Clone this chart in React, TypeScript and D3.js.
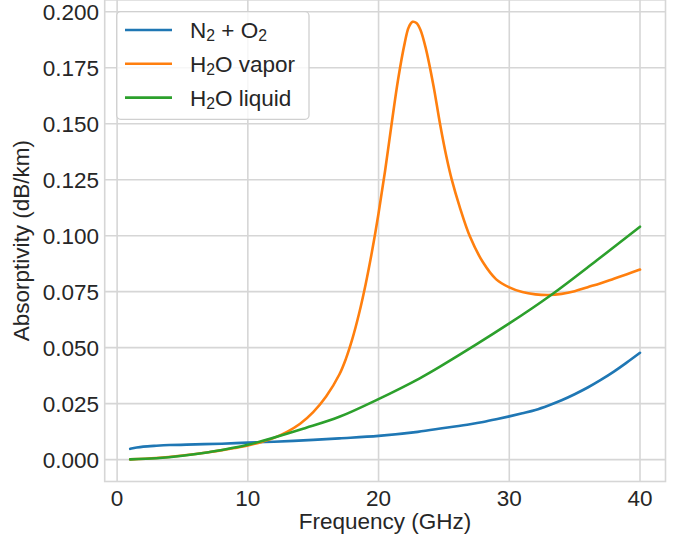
import React from "react";
import * as d3 from "d3";

const freqN2O2 = [1, 1.5, 2, 3, 4, 6, 8, 10, 12, 15, 17, 20, 23, 25, 27, 28, 29, 30, 31, 32, 33, 34, 35, 36, 37, 38, 39, 40];
const valN2O2 = [0.0048, 0.0054, 0.0058, 0.0062, 0.0065, 0.0068, 0.0071, 0.0076, 0.008, 0.0088, 0.0095, 0.0106, 0.0124, 0.0141, 0.0158, 0.0168, 0.018, 0.0193, 0.0207, 0.0222, 0.0242, 0.0265, 0.0292, 0.0322, 0.0356, 0.0393, 0.0434, 0.0477];

const freqVapor = [1, 3, 5, 7, 9, 10, 11, 12, 13, 14, 15, 16, 17, 17.5, 18, 18.5, 19, 19.5, 20, 20.5, 21, 21.5, 22, 22.3, 22.6, 22.9, 23.2, 23.6, 24.2, 24.7, 25.2, 25.6, 26.2, 27, 28, 29, 30, 31, 32, 33, 34, 35, 36, 37, 38, 39, 40];
const valVapor = [0.0001, 0.0007, 0.0018, 0.0033, 0.0052, 0.0063, 0.0078, 0.0097, 0.0124, 0.016, 0.0212, 0.0283, 0.038, 0.045, 0.054, 0.065, 0.078, 0.093, 0.110, 0.129, 0.150, 0.170, 0.186, 0.193, 0.1955, 0.195, 0.192, 0.184, 0.167, 0.150, 0.135, 0.125, 0.113, 0.0995, 0.088, 0.0805, 0.0769, 0.0748, 0.0738, 0.0735, 0.074, 0.0752, 0.077, 0.0788, 0.0808, 0.0828, 0.0849];

const freqLiquid = [1, 3, 5, 7, 10, 14.47, 17, 19.95, 23.15, 24.7, 30, 33.2, 36.7, 40];
const valLiquid = [0.0001, 0.0006, 0.0017, 0.0033, 0.0066, 0.0142, 0.0191, 0.0269, 0.0363, 0.0415, 0.0608, 0.0735, 0.089, 0.104];

const seriesNames = ["N2O2", "vapor", "liquid"];
const colors = ["#1f77b4", "#ff7f0e", "#2ca02c"];
const xTicks = [0, 10, 20, 30, 40];
const yTicks = [0, 0.025, 0.05, 0.075, 0.1, 0.125, 0.15, 0.175, 0.2];

const W = 685, H = 544;
const L = 104.7, R = 665.5, T = -0.1, B = 481.5;
const FONT = "'Liberation Sans', Arial, sans-serif";
const TXT = "#262626";
const GRID = "#d6d6d6";

export default function App() {
  const x = d3.scaleLinear().domain([-0.95, 41.95]).range([L, R]);
  const y = d3.scaleLinear().domain([-0.00978, 0.2053]).range([B, T]);
  const line = d3.line<[number, number]>().x(d => x(d[0])).y(d => y(d[1])).curve(d3.curveCatmullRom.alpha(0.5));
  const data: [number, number][][] = [
    freqN2O2.map((f, i) => [f, valN2O2[i]]),
    freqVapor.map((f, i) => [f, valVapor[i]]),
    freqLiquid.map((f, i) => [f, valLiquid[i]]),
  ];
  const legendRows = [
    { main: ["N", "2", " + O", "2"], color: colors[0] },
    { main: ["H", "2", "O vapor", ""], color: colors[1] },
    { main: ["H", "2", "O liquid", ""], color: colors[2] },
  ];
  const fs = 22.5;
  return (
    <svg width={W} height={H} style={{ position: "absolute", left: 0, top: 0, background: "#fff" }} fontFamily={FONT}>
      <rect x={0} y={0} width={W} height={H} fill="#fff" />
      <defs>
        <clipPath id="plotclip"><rect x={L} y={T} width={R - L} height={B - T} /></clipPath>
      </defs>
      {xTicks.map(t => (
        <line key={"gx" + t} x1={x(t)} x2={x(t)} y1={T} y2={B} stroke={GRID} strokeWidth={1.6} />
      ))}
      {yTicks.map(t => (
        <line key={"gy" + t} x1={L} x2={R} y1={y(t)} y2={y(t)} stroke={GRID} strokeWidth={1.6} />
      ))}
      <rect x={L} y={T} width={R - L} height={B - T} fill="none" stroke={GRID} strokeWidth={1.6} />
      <g clipPath="url(#plotclip)">
        {data.map((d, i) => (
          <path key={seriesNames[i]} d={line(d) || ""} fill="none" stroke={colors[i]} strokeWidth={2.6} strokeLinecap="round" strokeLinejoin="round" />
        ))}
      </g>
      {xTicks.map(t => (
        <text key={"tx" + t} x={x(t)} y={506} textAnchor="middle" fontSize={fs} fill={TXT}>{t}</text>
      ))}
      {yTicks.map(t => (
        <text key={"ty" + t} x={99} y={y(t)} dy="0.36em" textAnchor="end" fontSize={fs} fill={TXT}>{d3.format(".3f")(t)}</text>
      ))}
      <text x={(L + R) / 2} y={529} textAnchor="middle" fontSize={fs} fill={TXT}>Frequency (GHz)</text>
      <text transform={`translate(29,${(T + B) / 2}) rotate(-90)`} textAnchor="middle" fontSize={fs} fill={TXT}>Absorptivity (dB/km)</text>
      <g>
        <rect x={116.7} y={11.7} width={192.3} height={107.6} rx={4} fill="#fff" fillOpacity={0.8} stroke="#d0d0d0" strokeWidth={1.3} />
        {legendRows.map((r, i) => {
          const yy = 30 + i * 33.8;
          return (
            <g key={i}>
              <line x1={125} x2={172} y1={yy} y2={yy} stroke={r.color} strokeWidth={2.6} />
              <text x={190} y={yy} dy="0.36em" fontSize={fs} fill={TXT}>
                <tspan>{r.main[0]}</tspan>
                <tspan fontSize={fs * 0.7} dy="0.2em">{r.main[1]}</tspan>
                <tspan dy="-0.14em">{r.main[2]}</tspan>
                {r.main[3] ? <tspan fontSize={fs * 0.7} dy="0.2em">{r.main[3]}</tspan> : null}
              </text>
            </g>
          );
        })}
      </g>
    </svg>
  );
}
